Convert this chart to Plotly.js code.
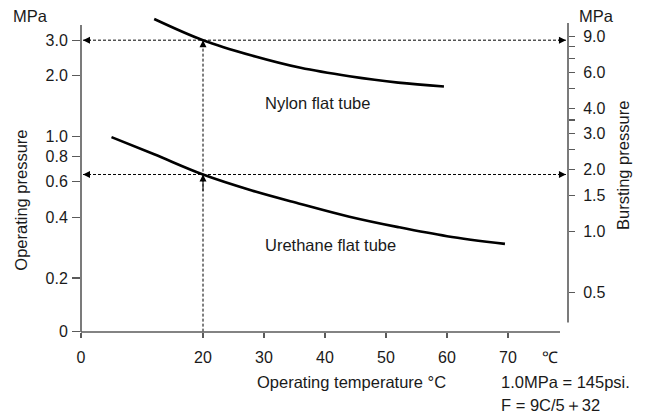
<!DOCTYPE html>
<html>
<head>
<meta charset="utf-8">
<script src="https://cdn.plot.ly/plotly-3.0.1.min.js"></script>
<style>html,body{margin:0;padding:0;background:#fff;}#chart{width:647px;height:416px;}</style>
</head>
<body>
<div id="chart"></div>
<script>
// ---- data ----
const nylonTemp = [12, 20, 28, 36, 44, 52, 59.5];
const nylonPressure = [3.82, 3.0, 2.52, 2.19, 1.99, 1.85, 1.77];
const urethaneTemp = [5, 12, 20, 28, 36, 44, 52, 60, 69.5];
const urethanePressure = [0.995, 0.818, 0.65, 0.542, 0.465, 0.402, 0.357, 0.322, 0.295];
const guideTemp = 20;
const guidePressure = [3.0, 0.65];
const guideBursting = [9.0, 1.9];
const xTickVals = [0, 20, 30, 40, 50, 60, 70];
const xTickText = ['0', '20', '30', '40', '50', '60', '70'];
const zeroPos = 0.1086;
const leftTickVals = [zeroPos, 0.2, 0.4, 0.6, 0.8, 1.0, 2.0, 3.0];
const leftTickText = ['0', '0.2', '0.4', '0.6', '0.8', '1.0', '2.0', '3.0'];
const rightTickVals = [9, 8, 7, 6, 5, 4, 3.5, 3, 2.5, 2, 1.5, 1, 0.5];
const rightTickText = ['9.0', '', '', '6.0', '', '4.0', '', '3.0', '', '2.0', '1.5', '1.0', '0.5'];

// ---- layout geometry ----
const W = 647, H = 416;
const L = 81, R = 79, T = 16, B = 84;
const PW = W - L - R, PH = H - T - B;
const px = v => (v - L) / PW;      // pixel -> paper x
const py = v => (H - B - v) / PH;  // pixel -> paper y
const xRange = [0, PW / 6.1];
const xGuideEnd = 79.5;
const xGuideStart = 0.33;

const FONT = '"Liberation Sans", Arial, Helvetica, sans-serif';
const AX = '#5a5a5a';
const TXT = '#1a1a1a';

const dash = '3px,2px';
const traces = [
  {x: nylonTemp, y: nylonPressure, mode: 'lines', line: {color: '#000', width: 2.6, shape: 'spline'}, hoverinfo: 'skip'},
  {x: urethaneTemp, y: urethanePressure, mode: 'lines', line: {color: '#000', width: 2.6, shape: 'spline'}, hoverinfo: 'skip'},
  {x: [xGuideStart, xGuideEnd], y: [guidePressure[0], guidePressure[0]], mode: 'lines', line: {color: '#000', width: 1, dash: dash}, hoverinfo: 'skip'},
  {x: [xGuideStart, xGuideEnd], y: [guidePressure[1], guidePressure[1]], mode: 'lines', line: {color: '#000', width: 1, dash: dash}, hoverinfo: 'skip'},
  {x: [guideTemp, guideTemp], y: [zeroPos, guidePressure[0]], mode: 'lines', line: {color: '#000', width: 1, dash: dash}, hoverinfo: 'skip'},
  // bursting-pressure ends of the guides, on the right axis (invisible, ties the axis to the plot)
  {x: [xGuideEnd, xGuideEnd], y: guideBursting, yaxis: 'y2', mode: 'markers', marker: {opacity: 0, size: 1}, hoverinfo: 'skip'}
];

function arrow(x, yv, ax, ay) {
  return {x: x, y: Math.log10(yv), xref: 'x', yref: 'y', text: '', showarrow: true,
          arrowhead: 2, arrowsize: 1.4, arrowwidth: 1, arrowcolor: '#000', ax: ax, ay: ay, standoff: 0};
}
function label(text, x, y, opts) {
  return Object.assign({text: text, x: px(x), y: py(y), xref: 'paper', yref: 'paper', showarrow: false,
          xanchor: 'center', yanchor: 'middle', font: {family: FONT, size: 16.5, color: TXT}}, opts || {});
}

const annotations = [
  arrow(xGuideStart, guidePressure[0], 9, 0),
  arrow(xGuideEnd, guidePressure[0], -9, 0),
  arrow(xGuideStart, guidePressure[1], 9, 0),
  arrow(xGuideEnd, guidePressure[1], -9, 0),
  arrow(guideTemp, guidePressure[0], 0, 8),
  arrow(guideTemp, guidePressure[1], 0, 18),
  label('MPa', 30.8, 16),
  label('MPa', 596, 16),
  label('Operating pressure', 20.7, 200, {textangle: -90}),
  label('Bursting pressure', 623, 166, {textangle: -90}),
  label('Operating temperature °C', 351, 382),
  label('℃', 550, 357.7, {font: {family: FONT, size: 16, color: TXT}}),
  label('1.0MPa = 145psi.', 499, 381.7, {xanchor: 'left'}),
  label('F = 9C/5＋32', 499, 405, {xanchor: 'left'}),
  label('Nylon flat tube', 263, 103, {xanchor: 'left'}),
  label('Urethane flat tube', 263, 245, {xanchor: 'left'})
];

const shapes = [
  {type: 'line', xref: 'paper', yref: 'paper', x0: 0, x1: 0, y0: 0, y1: py(25), line: {color: AX, width: 1.6}},
  {type: 'line', xref: 'paper', yref: 'paper', x0: 1, x1: 1, y0: py(322.5), y1: py(23), line: {color: AX, width: 1.6}},
  {type: 'line', xref: 'paper', yref: 'paper', x0: 0, x1: px(560), y0: 0, y1: 0, line: {color: AX, width: 1.6}}
];

const tickFont = {family: FONT, size: 16, color: TXT};
const layout = {
  width: W, height: H,
  margin: {l: L, r: R, t: T, b: B, pad: 0},
  paper_bgcolor: '#fff', plot_bgcolor: '#fff',
  showlegend: false,
  font: {family: FONT, color: TXT},
  xaxis: {range: xRange, tickmode: 'array', tickvals: xTickVals, ticktext: xTickText,
          ticks: 'outside', ticklen: 5, tickwidth: 1.2, tickcolor: AX, showline: false,
          showgrid: false, zeroline: false, tickfont: tickFont, ticklabelstandoff: 6, fixedrange: true},
  yaxis: {type: 'log', range: [-0.966, (136.8 - T) / 202.45], tickmode: 'array',
          tickvals: leftTickVals, ticktext: leftTickText, ticks: 'outside', ticklen: 8,
          tickwidth: 1.2, tickcolor: AX, showline: false, showgrid: false, zeroline: false,
          tickfont: tickFont, ticklabelstandoff: 1, fixedrange: true},
  yaxis2: {type: 'log', overlaying: 'y', side: 'right', anchor: 'x',
           range: [(231.1 - (H - B)) / 204.2, (231.1 - T) / 204.2], tickmode: 'array',
           tickvals: rightTickVals, ticktext: rightTickText, ticks: 'outside', ticklen: 6,
           tickwidth: 1.2, tickcolor: AX, showline: false, showgrid: false, zeroline: false,
           tickfont: tickFont, ticklabelstandoff: 5, fixedrange: true},
  annotations: annotations,
  shapes: shapes
};

Plotly.newPlot('chart', traces, layout, {staticPlot: true, displayModeBar: false});
</script>
</body>
</html>
